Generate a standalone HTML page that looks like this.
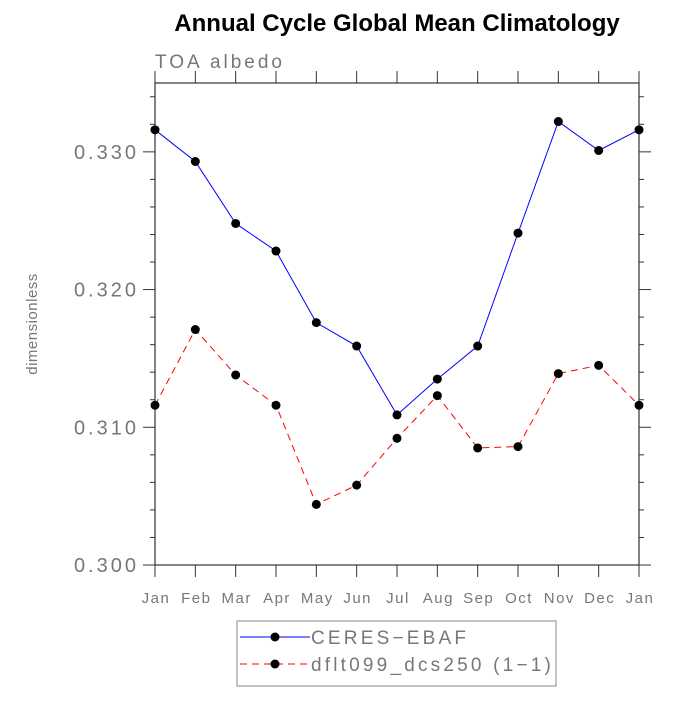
<!DOCTYPE html>
<html><head><meta charset="utf-8"><style>
body{margin:0;background:#fff;}
svg text{font-family:"Liberation Sans",sans-serif;}
</style></head><body>
<svg id="c" width="700" height="700" xmlns="http://www.w3.org/2000/svg">
<text x="397" y="31" text-anchor="middle" font-size="24" font-weight="bold">Annual Cycle Global Mean Climatology</text>
<text x="155" y="68" font-size="19" fill="#777" letter-spacing="3">TOA albedo</text>
<text transform="translate(37,324) rotate(-90)" text-anchor="middle" font-size="15" fill="#777" letter-spacing="0.5">dimensionless</text>
<g id="axes"></g>
<g id="marks"></g>
<g>
<rect x="237" y="621" width="319" height="65" fill="none" stroke="#888" stroke-width="1"/>
<line x1="240" y1="637" x2="310" y2="637" stroke="#0000ff" stroke-width="1"/>
<circle cx="275" cy="637" r="4.5" fill="#000"/>
<text x="311" y="644" font-size="19" fill="#777" letter-spacing="3.2">CERES−EBAF</text>
<line x1="240" y1="664" x2="310" y2="664" stroke="#ff0000" stroke-width="1" stroke-dasharray="7,5"/>
<circle cx="275" cy="664" r="4.5" fill="#000"/>
<text x="311" y="671" font-size="19" fill="#777" letter-spacing="3.2">dflt099_dcs250 (1−1)</text>
</g>
</svg>
<script>
const months=["Jan","Feb","Mar","Apr","May","Jun","Jul","Aug","Sep","Oct","Nov","Dec","Jan"];
const ceres=[0.3316,0.3293,0.3248,0.3228,0.3176,0.3159,0.3109,0.3135,0.3159,0.3241,0.3322,0.3301,0.3316];
const model=[0.3116,0.3171,0.3138,0.3116,0.3044,0.3058,0.3092,0.3123,0.3085,0.3086,0.3139,0.3145,0.3116];
const yTicks=[0.300,0.310,0.320,0.330];
const yTickLabels=["0.300","0.310","0.320","0.330"];
const L=155,R=639,T=83,B=565,yMin=0.300,yMax=0.335;
const xs=i=>L+(R-L)*i/(months.length-1);
const ys=v=>B-(v-yMin)/(yMax-yMin)*(B-T);
const NS="http://www.w3.org/2000/svg";
const ax=document.getElementById('axes'),mk=document.getElementById('marks');
function el(p,t,a){const e=document.createElementNS(NS,t);for(const k in a)e.setAttribute(k,a[k]);p.appendChild(e);return e;}
const fr=el(ax,'rect',{x:L,y:T,width:R-L,height:B-T,fill:'none',stroke:'#333','stroke-width':1.2});


for(let v=0.300;v<=0.3351;v+=0.002){const y=ys(v);const maj=Math.abs(((v-0.3)/0.01)-Math.round((v-0.3)/0.01))<1e-6;const l=maj?12:5;
el(ax,'line',{x1:L-l,y1:y,x2:L,y2:y,stroke:'#333'});el(ax,'line',{x1:R,y1:y,x2:R+l,y2:y,stroke:'#333'});}
yTicks.forEach((v,i)=>{const t=el(ax,'text',{x:L-16,y:ys(v)+7,'text-anchor':'end','font-size':20,fill:'#777','letter-spacing':3});t.textContent=yTickLabels[i];

});
months.forEach((m,i)=>{const x=xs(i);el(ax,'line',{x1:x,y1:B,x2:x,y2:B+12,stroke:'#333'});el(ax,'line',{x1:x,y1:T,x2:x,y2:T-12,stroke:'#333'});
const t=el(ax,'text',{x:x+1,y:603,'text-anchor':'middle','font-size':15,fill:'#777','letter-spacing':1.5});t.textContent=m;

});
function series(d,c,dash,name){const p=el(mk,'polyline',{points:d.map((v,i)=>xs(i)+','+ys(v)).join(' '),fill:'none',stroke:c,'stroke-width':1,'stroke-dasharray':dash});


d.forEach((v,i)=>{const c2=el(mk,'circle',{cx:xs(i),cy:ys(v),r:4.5,fill:'#000'});

});}
series(model,'#ff0000','7,5','model');
series(ceres,'#0000ff','none','ceres');
</script>
</body></html>
